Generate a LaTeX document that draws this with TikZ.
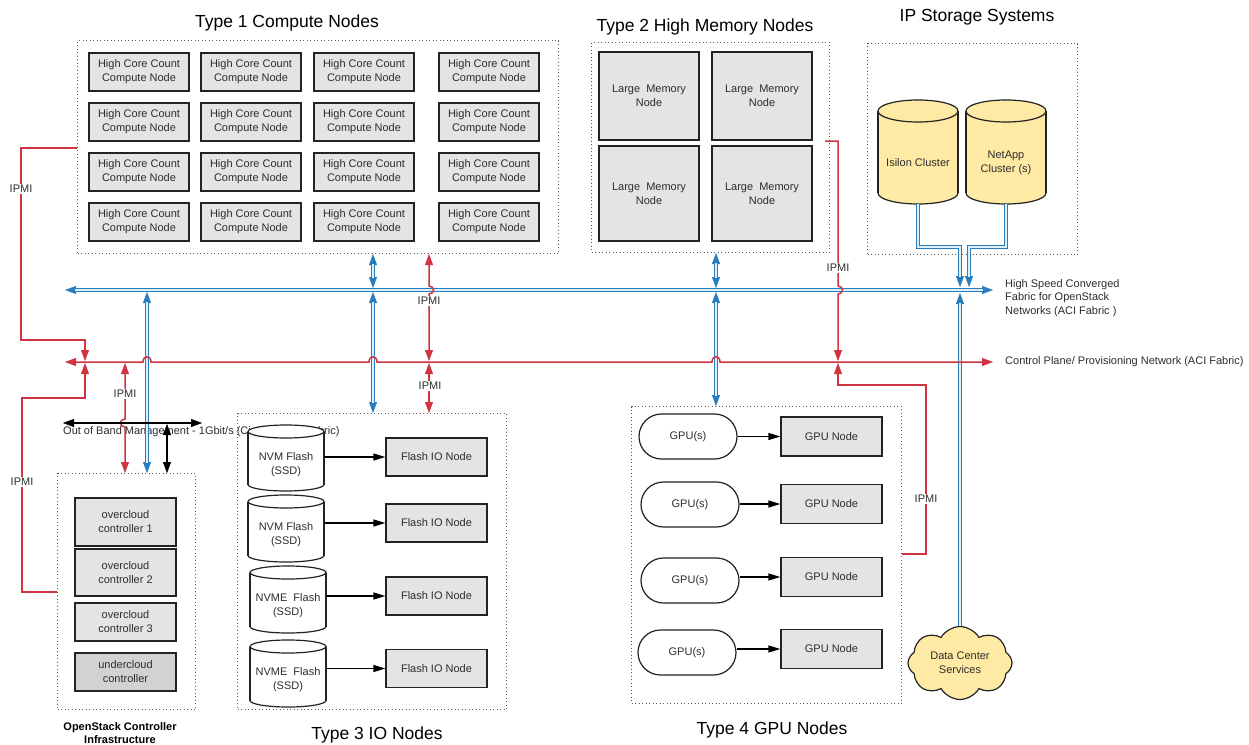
\documentclass[tikz,border=0pt]{standalone}
\usepackage{fontspec}
\setmainfont{Liberation Sans}
\usetikzlibrary{arrows.meta,shapes.misc,shapes.symbols,calc}
\definecolor{fabblue}{RGB}{40,125,190}
\definecolor{fabinner}{RGB}{222,238,246}
\definecolor{netred}{RGB}{208,52,64}
\definecolor{boxgray}{RGB}{228,228,228}
\definecolor{undgray}{RGB}{210,210,210}
\definecolor{txtc}{RGB}{45,45,45}
\definecolor{linec}{RGB}{35,35,35}
\definecolor{stor}{RGB}{255,234,165}
\definecolor{dotc}{RGB}{90,90,90}
\newcommand\nf{\fontsize{11}{14}\selectfont}
\newcommand\tf{\fontsize{17.5}{20}\selectfont}
\tikzset{
 cnode/.style={draw=linec, fill=boxgray, line width=1.2pt, inner sep=0pt, align=center, font=\nf, text=txtc},
 grp/.style={draw=dotc, line width=1pt, dash pattern=on 1pt off 2.5pt, inner sep=0pt, anchor=north west},
 ttl/.style={font=\tf, text=black, inner sep=0pt},
 lbl/.style={font=\nf, text=txtc, inner sep=1pt},
 ipmil/.style={font=\nf, text=txtc, fill=white, inner sep=1.2pt},
 redl/.style={draw=netred, line width=1.5pt},
 blkl/.style={draw=black, line width=1.5pt},
 fabo/.style={draw=fabblue, line width=4pt},
 fabi/.style={draw=fabinner, line width=1.3pt},
 cyltxt/.style={font=\nf, text=txtc, align=center, inner sep=0pt},
}
\newcommand\fabpath[3]{\draw[fabo,#1] #3; \draw[fabi,#2] #3;}
\newcommand\drawcyl[8]{%
 \node[inner sep=0pt, outer sep=0pt, minimum width=#4pt, minimum height=#5pt] (#1) at (#2,#3) {};
 \fill[#7] ([yshift=-#6pt]#1.north west) rectangle ([yshift=#6pt]#1.south east);
 \filldraw[fill=#7, draw=linec, line width=1.2pt] ([yshift=#6pt]#1.south) ellipse [x radius=#4pt/2, y radius=#6pt];
 \fill[#7] ([yshift=-#6pt]#1.north west) rectangle ([yshift=#6pt]#1.south east);
 \draw[draw=linec, line width=1.2pt] ([yshift=-#6pt]#1.north west) -- ([yshift=#6pt]#1.south west) ([yshift=-#6pt]#1.north east) -- ([yshift=#6pt]#1.south east);
 \filldraw[fill=#7, draw=linec, line width=1.2pt] ([yshift=-#6pt]#1.north) ellipse [x radius=#4pt/2, y radius=#6pt];
 \node[cyltxt] (#1t) at ([yshift=-#6pt]#1.center) {#8};
}
\begin{document}
\begin{tikzpicture}[x=1pt, y=-1pt, >={Triangle[length=11pt,width=8pt,line width=0.4pt]}]
\useasboundingbox[fill=white] (0,0) rectangle (1249,744);

% out of band label (partly hidden by the first cylinder)
\node[lbl, anchor=west] (ooblbl) at (62,432) {Out of Band Management - 1Gbit/s (Cisco Nexus Fabric)};

% groups
\node[grp, minimum width=481pt, minimum height=213pt] (t1grp) at (77,40) {};
\node[grp, minimum width=238pt, minimum height=210pt] (t2grp) at (591,42) {};
\node[grp, minimum width=210pt, minimum height=211pt] (stgrp) at (867,43) {};
\node[grp, minimum width=269pt, minimum height=296pt] (iogrp) at (237,413) {};
\node[grp, minimum width=270pt, minimum height=297pt] (gpugrp) at (631,406) {};
\node[grp, minimum width=138pt, minimum height=236pt] (ctrlgrp) at (57,473) {};

% titles
\node[ttl] (t1ttl) at (287,23) {Type 1 Compute Nodes};
\node[ttl] (t2ttl) at (705,27) {Type 2 High Memory Nodes};
\node[ttl] (stttl) at (977,17) {IP Storage Systems};
\node[ttl] (t3ttl) at (377,735) {Type 3 IO Nodes};
\node[ttl] (t4ttl) at (772,730) {Type 4 GPU Nodes};
\node[font=\bfseries\fontsize{11}{13}\selectfont, align=center, inner sep=0pt] (ctrlcap) at (120,733) {OpenStack Controller\\Infrastructure};

% compute nodes
\foreach \x [count=\i] in {139,251,364,489}
 \foreach \y [count=\j] in {72,122,172,222}
  \node[cnode, minimum width=100pt, minimum height=38pt] (c\i\j) at (\x,\y) {High Core Count\\Compute Node};

% memory nodes
\node[cnode, minimum width=100pt, minimum height=88pt] (m11) at (649,96) {Large~ Memory\\Node};
\node[cnode, minimum width=100pt, minimum height=88pt] (m21) at (762,96) {Large~ Memory\\Node};
\node[cnode, minimum width=100pt, minimum height=95pt] (m12) at (649,193.5) {Large~ Memory\\Node};
\node[cnode, minimum width=100pt, minimum height=95pt] (m22) at (762,193.5) {Large~ Memory\\Node};

% controllers
\node[cnode, minimum width=101pt, minimum height=48pt] (oc1) at (125.5,522) {overcloud\\controller 1};
\node[cnode, minimum width=101pt, minimum height=47pt] (oc2) at (125.5,572.5) {overcloud\\controller 2};
\node[cnode, minimum width=101pt, minimum height=38pt] (oc3) at (125.5,622) {overcloud\\controller 3};
\node[cnode, fill=undgray, minimum width=101pt, minimum height=38pt] (uc) at (125.5,672) {undercloud\\controller};

% storage
\drawcyl{isilon}{918}{152}{80}{104}{11}{stor}{Isilon Cluster}
\drawcyl{netapp}{1006}{152}{80}{104}{11}{stor}{NetApp\\Cluster (s)}

% IO
\drawcyl{cy1}{286}{458}{76}{66}{6.5}{white}{NVM Flash\\(SSD)}
\drawcyl{cy2}{286}{528.5}{76}{67}{6.5}{white}{NVM Flash\\(SSD)}
\drawcyl{cy3}{288}{599.5}{76}{67}{6.5}{white}{NVME~ Flash\\(SSD)}
\drawcyl{cy4}{288}{673.5}{76}{67}{6.5}{white}{NVME~ Flash\\(SSD)}
\node[cnode, minimum width=101pt, minimum height=38pt] (fio1) at (436.5,457) {Flash IO Node};
\node[cnode, minimum width=101pt, minimum height=38pt] (fio2) at (436.5,523) {Flash IO Node};
\node[cnode, minimum width=101pt, minimum height=38pt] (fio3) at (436.5,596) {Flash IO Node};
\node[cnode, minimum width=101pt, minimum height=38pt] (fio4) at (436.5,668.5) {Flash IO Node};
\foreach \i in {1,2,3,4}
 \draw[black, line width=1.3pt, -{Triangle[length=12pt,width=7pt]}] (cy\i.east |- fio\i.west) -- (fio\i.west);

% GPU
\tikzset{gpus/.style={rounded rectangle, draw=linec, fill=white, line width=1.2pt, minimum width=98pt, minimum height=45pt, inner sep=0pt, font=\nf, text=txtc}}
\node[gpus] (gpu1) at (688,436.5) {GPU(s)};
\node[gpus] (gpu2) at (690,504.5) {GPU(s)};
\node[gpus] (gpu3) at (690,580.5) {GPU(s)};
\node[gpus] (gpu4) at (687,652.5) {GPU(s)};
\node[cnode, minimum width=101pt, minimum height=39pt] (gn1) at (831.5,436.5) {GPU Node};
\node[cnode, minimum width=101pt, minimum height=39pt] (gn2) at (831.5,504) {GPU Node};
\node[cnode, minimum width=101pt, minimum height=39pt] (gn3) at (831.5,577) {GPU Node};
\node[cnode, minimum width=101pt, minimum height=39pt] (gn4) at (831.5,649) {GPU Node};
\foreach \i in {1,2,3,4}
 \draw[black, line width=1.3pt, -{Triangle[length=12pt,width=7pt]}] (gpu\i.east |- gn\i.west) -- (gn\i.west);

% cloud
\node[cloud, cloud puffs=8, cloud puff arc=120, cloud ignores aspect, draw=linec, fill=stor, line width=1.2pt, minimum width=104pt, minimum height=73pt, inner sep=0pt, align=center, font=\nf, text=txtc] (dcs) at (960,663) {Data Center\\Services};

% bus coordinates
\coordinate (fabL) at (65,290); \coordinate (fabR) at (993,290);
\coordinate (ctlL) at (65,362); \coordinate (ctlR) at (993,362);
\coordinate (oobL) at (63,423); \coordinate (oobR) at (202,423);
\coordinate (f147) at (147,290); \coordinate (f373) at (373,290);
\coordinate (f716) at (716,290); \coordinate (f960) at (960,290);
\coordinate (f969) at (969,290);
\coordinate (c85) at (85,362); \coordinate (c125) at (125,362);
\coordinate (c429) at (429,362); \coordinate (c838) at (838,362);
\coordinate (o167) at (167,423);
\coordinate (m21ip) at (825,141);

% high speed fabric
\fabpath{<->}{shorten <=10pt, shorten >=10pt}{(fabL) -- (fabR)}
\fabpath{<->}{shorten <=10pt, shorten >=10pt}{(t1grp.south -| f373) -- ([yshift=2pt]f373)}
\fabpath{<->}{shorten <=10pt, shorten >=10pt}{([yshift=-2pt]f373) -- (iogrp.north -| f373)}
\fabpath{<->}{shorten <=10pt, shorten >=10pt}{(t2grp.south -| f716) -- ([yshift=2pt]f716)}
\fabpath{<->}{shorten <=10pt, shorten >=10pt}{([yshift=-2pt]f716) -- (gpugrp.north -| f716)}
\fabpath{<->}{shorten <=10pt, shorten >=10pt}{([yshift=-2pt]f147) -- (ctrlgrp.north -| f147)}
\fabpath{->}{shorten >=10pt}{(isilon.south) -- ++(0,43) -| ([yshift=3pt]f960)}
\fabpath{->}{shorten >=10pt}{(netapp.south) -- ++(0,43) -| ([yshift=3pt]f969)}
\fabpath{->}{shorten >=10pt}{(dcs.north) -- ([yshift=-3pt]f960)}

% control plane
\draw[redl, <->] (ctlL) -- (143,362) .. controls (143,355) and (151,355) .. (151,362)
  -- (369,362) .. controls (369,355) and (377,355) .. (377,362)
  -- (712,362) .. controls (712,355) and (720,355) .. (720,362) -- (ctlR);
\draw[redl, ->] (t1grp.west |- 0,148) -- (21,148) -- (21,340) -- (85,340) -- ([yshift=1pt]c85);
\draw[redl, ->] (ctrlgrp.west |- 0,592) -- (22,592) -- (22,398) -- (85,398) -- ([yshift=-1pt]c85);
\draw[redl, <->] ([yshift=-1pt]c125) -- (125,419) .. controls (119,419) and (119,427) .. (125,427) -- (ctrlgrp.north -| c125);
\draw[redl, <->] (t1grp.south -| c429) -- (429,286) .. controls (435,286) and (435,294) .. (429,294) -- ([yshift=1pt]c429);
\draw[redl, <->] ([yshift=-1pt]c429) -- (iogrp.north -| c429);
\draw[redl, ->] (m21ip) -- (838,141) -- (838,286) .. controls (844,286) and (844,294) .. (838,294) -- ([yshift=1pt]c838);
\draw[redl, ->] (gpugrp.east |- 0,554) -- (926,554) -- (926,385) -- (838,385) -- ([yshift=-1pt]c838);

% out of band
\draw[blkl, <->] (oobL) -- (oobR);
\draw[blkl, <->] ([yshift=-1pt]o167) -- (ctrlgrp.north -| o167);

% IPMI labels
\node[ipmil] (ip1) at (21,189) {IPMI};
\node[ipmil] (ip2) at (22,482) {IPMI};
\node[ipmil] (ip3) at (125,394) {IPMI};
\node[ipmil] (ip4) at (429,301) {IPMI};
\node[ipmil] (ip5) at (430,386) {IPMI};
\node[ipmil] (ip6) at (838,268) {IPMI};
\node[ipmil] (ip7) at (926,499) {IPMI};

% bus labels
\node[lbl, anchor=west, align=left, font=\fontsize{11}{13.5}\selectfont] (fablbl) at (1004,298) {High Speed Converged\\Fabric for OpenStack\\Networks (ACI Fabric )};
\node[lbl, anchor=west] (ctllbl) at (1004,362) {Control Plane/ Provisioning Network (ACI Fabric)};
\end{tikzpicture}
\end{document}
